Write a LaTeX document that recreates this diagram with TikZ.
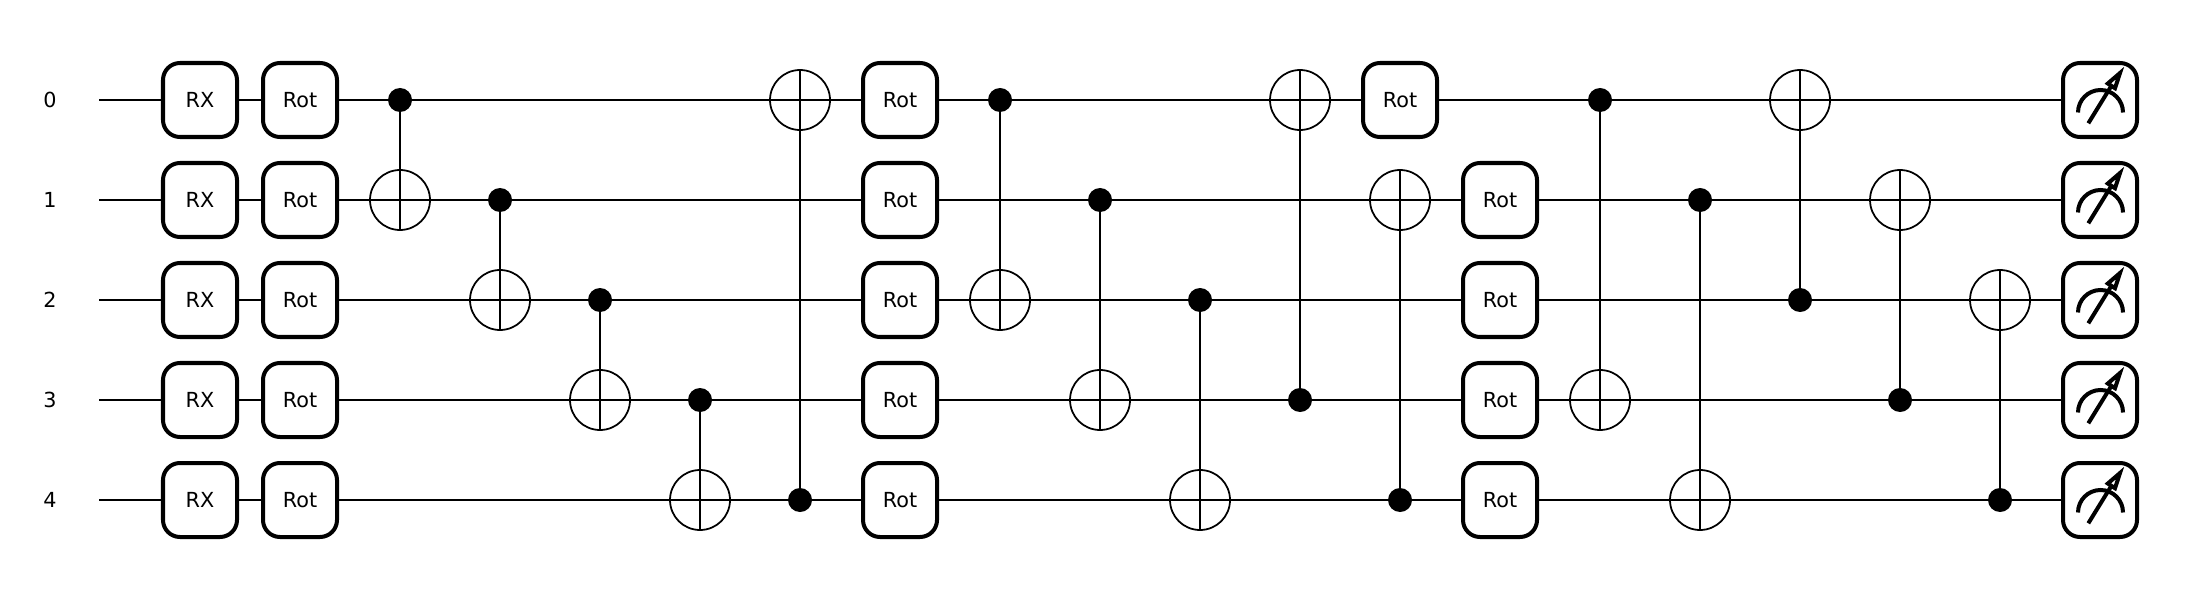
\documentclass[tikz,border=0pt]{standalone}
\usepackage{fontspec}
\setmainfont{DejaVu Sans}
\usetikzlibrary{positioning, calc}

\tikzset{
    wire/.style={line width=0.57pt},
    gatebox/.style={rectangle,rounded corners=0.17cm,draw,fill=white,line width=1.14pt,minimum width=0.74cm,minimum height=0.74cm,inner sep=0pt,font=\fontsize{5.9}{6}\selectfont},
    wirelabel/.style={font=\fontsize{5.9}{6}\selectfont},
    ctrldot/.style={circle,fill=black,minimum size=0.24cm,inner sep=0pt},
    target/.style={circle,draw,line width=0.5pt,minimum size=0.6cm,inner sep=0pt},
    meter/.style={line width=1.14pt}
}

\begin{document}
\begin{tikzpicture}
    \useasboundingbox (0,0) rectangle (22,6);
    % wires first, the gates sit on top of them
    \foreach \i in {0,...,4} {
        \node[wirelabel] (label\i) at (0.5,5-\i) {\i};
        \coordinate (start\i) at (0.99,5-\i);
        \node[gatebox] (meas\i) at (21,5-\i) {};
    }
    \foreach \i in {0,...,4}
        \draw[wire] (start\i) -- (meas\i.west);
    % rotation layers
    \foreach \i in {0,...,4} {
        \node[gatebox] (rx\i) at (2,5-\i) {RX};
        \node[gatebox] (rota\i) at (3,5-\i) {Rot};
        \node[gatebox] (rotb\i) at (9,5-\i) {Rot};
    }
    \node[gatebox] (rotc0) at (14,5) {Rot};
    \foreach \i in {1,...,4}
        \node[gatebox] (rotc\i) at (15,5-\i) {Rot};
    % cnots: column, control, target, far side of the circle
    \foreach \x/\c/\t/\a in {4/0/1/south,5/1/2/south,6/2/3/south,7/3/4/south,8/4/0/north,
                             10/0/2/south,11/1/3/south,12/2/4/south,13/3/0/north,14/4/1/north,
                             16/0/3/south,17/1/4/south,18/2/0/north,19/3/1/north,20/4/2/north} {
        \node[ctrldot] (ctrl\x) at (\x,5-\c) {};
        \node[target] (tgt\x) at (\x,5-\t) {};
        \draw[wire] (ctrl\x.center) -- (tgt\x.\a);
    }
    % meter icons
    \foreach \i in {0,...,4} {
        \begin{scope}[shift={(meas\i.center)}]
            \draw[meter] (-0.22,-0.125) arc (180:0:0.225);
            \draw[meter] (-0.117,-0.233) -- (0.125,0.16);
            \draw[meter,fill=white,line join=miter] (0.2,0.27) -- (0.078,0.165) -- (0.15,0.118) -- cycle;
        \end{scope}
    }
\end{tikzpicture}
\end{document}
